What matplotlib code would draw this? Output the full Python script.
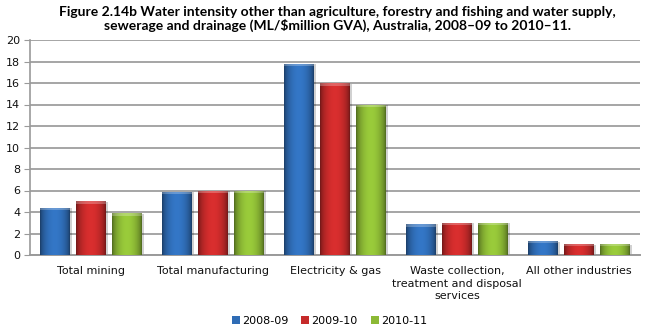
import numpy as np
import matplotlib
matplotlib.use("Agg")
import matplotlib.pyplot as plt
from matplotlib.colors import to_rgb

categories = ["Total mining", "Total manufacturing", "Electricity & gas",
              "Waste collection,\ntreatment and disposal\nservices", "All other industries"]
series_names = ["2008-09", "2009-10", "2010-11"]
values_0809 = [4.4, 5.9, 17.8, 2.9, 1.3]
values_0910 = [5.0, 6.0, 16.0, 3.0, 1.0]
values_1011 = [3.9, 6.0, 14.0, 3.0, 1.0]
y_ticks = list(range(0, 21, 2))

colors = ["#2f6cb5", "#c62a2a", "#8cb935"]
series = [values_0809, values_0910, values_1011]

fig = plt.figure(figsize=(6.46, 3.31), dpi=100)
ax = fig.add_axes([30 / 646, 1 - 255 / 331, 610 / 646, 215 / 331])

x = np.arange(len(categories))
width = 0.238
pitch = 0.295


def shaded(color, n=64):
    base = np.array(to_rgb(color))
    t = np.linspace(0, 1, n)
    # darker at the edges, lighter toward the middle for a rounded look
    k = 0.55 + 0.55 * np.sin(np.pi * t) ** 0.6
    rows = np.clip(base[None, :] * k[:, None], 0, 1)
    return rows[None, :, :]


for i, (vals, col, name) in enumerate(zip(series, colors, series_names)):
    bars = ax.bar(x + (i - 1) * pitch, vals, width, color=col, label=name,
                  edgecolor="none", zorder=3)
    for b in bars:
        x0, y0 = b.get_x(), b.get_y()
        w, h = b.get_width(), b.get_height()
        # soft shadow to the right
        ax.add_patch(plt.Rectangle((x0 + 0.02, y0), w, h - 0.05, color="#000000",
                                   alpha=0.18, zorder=2, lw=0))
        im = ax.imshow(shaded(col), extent=[x0, x0 + w, y0, y0 + h],
                       aspect="auto", zorder=4, interpolation="bilinear")
        im.set_clip_path(b)
        # highlight on the top cap
        cap = min(0.25, h * 0.15)
        ax.add_patch(plt.Rectangle((x0, y0 + h - cap), w, cap, color="white",
                                   alpha=0.25, zorder=5, lw=0))

ax.set_xlim(-0.5, len(categories) - 0.5)
ax.set_ylim(0, 20)
ax.set_yticks(y_ticks)
ax.set_xticks(x)
ax.set_xticklabels(categories, fontsize=8, color="#111111", linespacing=1.3)
ax.tick_params(axis="x", length=0, pad=8)
ax.tick_params(axis="y", length=4, color="#9a9a9a", labelsize=8, pad=3,
               labelcolor="#111111")
ax.yaxis.grid(True, color="#a5a5a5", linewidth=1.4, zorder=0)
ax.set_axisbelow(True)
for s in ["top", "right"]:
    ax.spines[s].set_visible(False)
ax.spines["left"].set_color("#9a9a9a")
ax.spines["left"].set_linewidth(1.2)
ax.spines["bottom"].set_color("#9a9a9a")
ax.spines["bottom"].set_linewidth(1.4)

fig.suptitle("Figure 2.14b Water intensity other than agriculture, forestry and fishing and water supply,\n"
             "sewerage and drainage (ML/$million GVA), Australia, 2008\u201309 to 2010\u201311.",
             x=0.523, y=0.983, fontsize=10, fontweight="bold", family="Lato",
             linespacing=1.1)

leg = fig.legend(loc="lower center", bbox_to_anchor=(0.51, -0.015), ncol=3, frameon=False,
                 fontsize=8, handlelength=0.7, handleheight=0.7, handletextpad=0.2,
                 columnspacing=1.2)

fig.savefig("out.png", dpi=100)
